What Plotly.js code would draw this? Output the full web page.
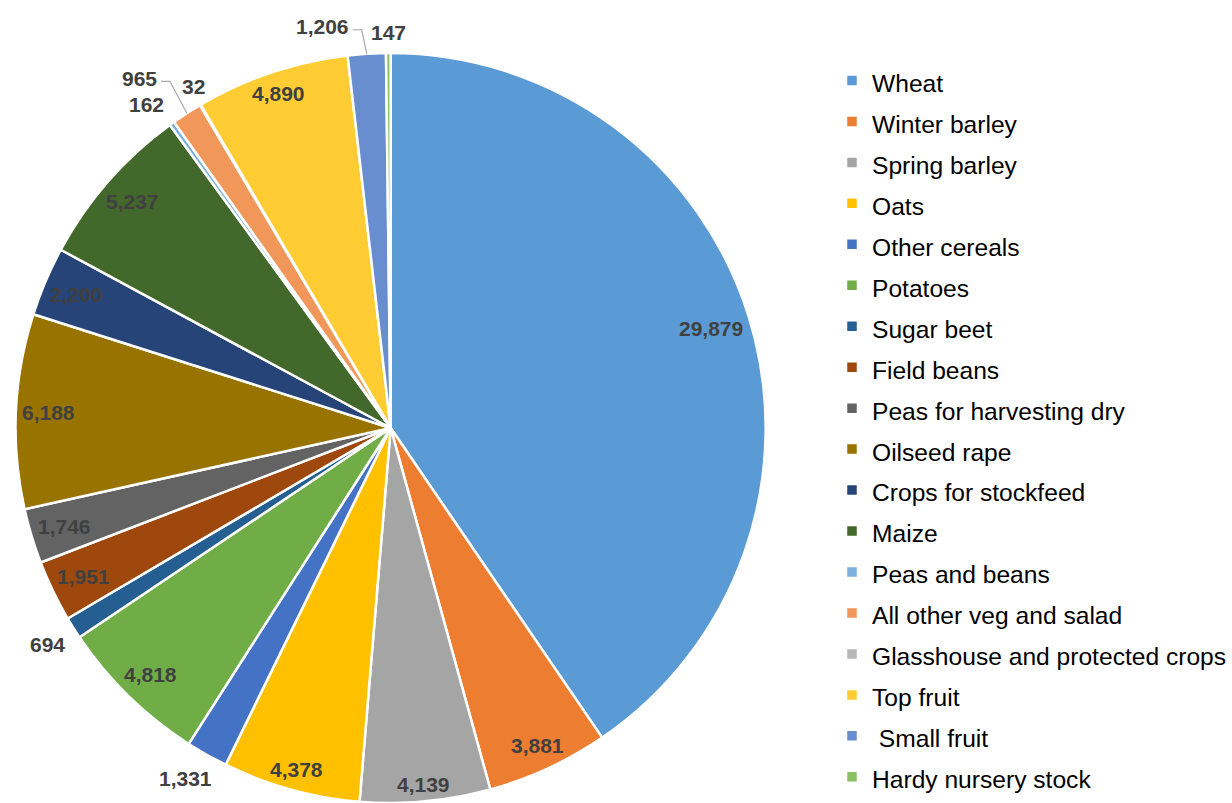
<!DOCTYPE html>
<html>
<head>
<meta charset="utf-8">
<script src="https://cdn.plot.ly/plotly-3.0.1.min.js"></script>
<style>html,body{margin:0;padding:0;background:#fff;}#chart{width:1232px;height:803px;}</style>
</head>
<body>
<div id="chart"></div>
<script>
// ---- data ----
const categories = ["Wheat","Winter barley","Spring barley","Oats","Other cereals","Potatoes","Sugar beet","Field beans","Peas for harvesting dry","Oilseed rape","Crops for stockfeed","Maize","Peas and beans","All other veg and salad","Glasshouse and protected crops","Top fruit"," Small fruit","Hardy nursery stock"];
const values = [29879,3881,4139,4378,1331,4818,694,1951,1746,6188,2200,5237,162,965,32,4890,1206,147];
const colors = ["#5B9BD5","#ED7D31","#A5A5A5","#FFC000","#4472C4","#70AD47","#255E91","#9E480E","#636363","#997300","#264478","#43682B","#7CAFDD","#F1975A","#B7B7B7","#FFCD33","#698ED0","#8CC168"];

// ---- geometry / style ----
const W = 1232, H = 803, MT = 53, MB = 0;
const plotH = H - MT - MB;
const cx = 391, cy = MT + plotH / 2, R = Math.min(782, plotH) / 2;
const labelFont = 21, labelColor = "#404040";
const leaderNudge = { 13: [-32, -11], 16: [-43, -5] }; // labels moved aside with leader lines
const plainNudge = { 4: [-6, -4], 12: [-9, 5], 14: [6, 3] };  // best-fit shifts without leader lines

const toX = px => px / W;
const toY = py => 1 - (py - MT) / plotH;

const ctx = document.createElement("canvas").getContext("2d");
ctx.font = "bold " + labelFont + "px 'Liberation Sans', Arial";

const total = values.reduce((a, b) => a + b, 0);
const annotations = [];
const shapes = [];
let cum = 0;
values.forEach((v, i) => {
  const mid = (cum + v / 2) / total * 2 * Math.PI;
  cum += v;
  const dx = Math.sin(mid), dy = -Math.cos(mid);
  const txt = v.toLocaleString("en-US");
  const w = ctx.measureText(txt).width, h = labelFont * 0.8;
  const support = Math.abs(dx) * w / 2 + Math.abs(dy) * h / 2;
  const inside = v / total > 0.02;
  const r = inside ? R - 6 - support : R + 12 + support;
  let lx = cx + dx * r, ly = cy + dy * r;
  if (plainNudge[i]) { lx += plainNudge[i][0]; ly += plainNudge[i][1]; }
  const nudge = leaderNudge[i];
  if (nudge) {
    lx += nudge[0]; ly += nudge[1];
    const sx = lx + w / 2 + 4, ex = cx + dx * R, ey = cy + dy * R;
    shapes.push({
      type: "path", xref: "paper", yref: "paper",
      path: `M${toX(sx)},${toY(ly + 3)} L${toX(sx + 9)},${toY(ly + 3)} L${toX(ex)},${toY(ey)}`,
      line: { color: "#A6A6A6", width: 1.2 }
    });
  }
  annotations.push({
    xref: "paper", yref: "paper", x: toX(lx), y: toY(ly),
    text: txt, showarrow: false, xanchor: "center", yanchor: "middle",
    font: { family: "'Liberation Sans', Arial", size: labelFont, color: labelColor, weight: "bold" }
  });
});

const legendLabels = categories.map(c => '<span style="font-size:24.6px">' + c + '</span>');

const trace = {
  type: "pie",
  labels: legendLabels,
  values: values,
  sort: false,
  direction: "clockwise",
  rotation: 0,
  textinfo: "none",
  hoverinfo: "label+value",
  marker: { colors: colors, line: { color: "#FFFFFF", width: 2.5 } },
  domain: { x: [0, 782 / W], y: [0, 1] }
};

const layout = {
  width: W, height: H,
  margin: { l: 0, r: 0, t: MT, b: MB },
  paper_bgcolor: "#FFFFFF",
  showlegend: true,
  legend: {
    x: (873 - 40) / W, xanchor: "left",
    y: toY(59), yanchor: "top",
    font: { family: "'Liberation Sans', Arial", size: 29.2, color: "#000000" },
    bgcolor: "rgba(0,0,0,0)"
  },
  annotations: annotations,
  shapes: shapes
};

Plotly.newPlot("chart", [trace], layout, { staticPlot: true, displayModeBar: false });
</script>
</body>
</html>
